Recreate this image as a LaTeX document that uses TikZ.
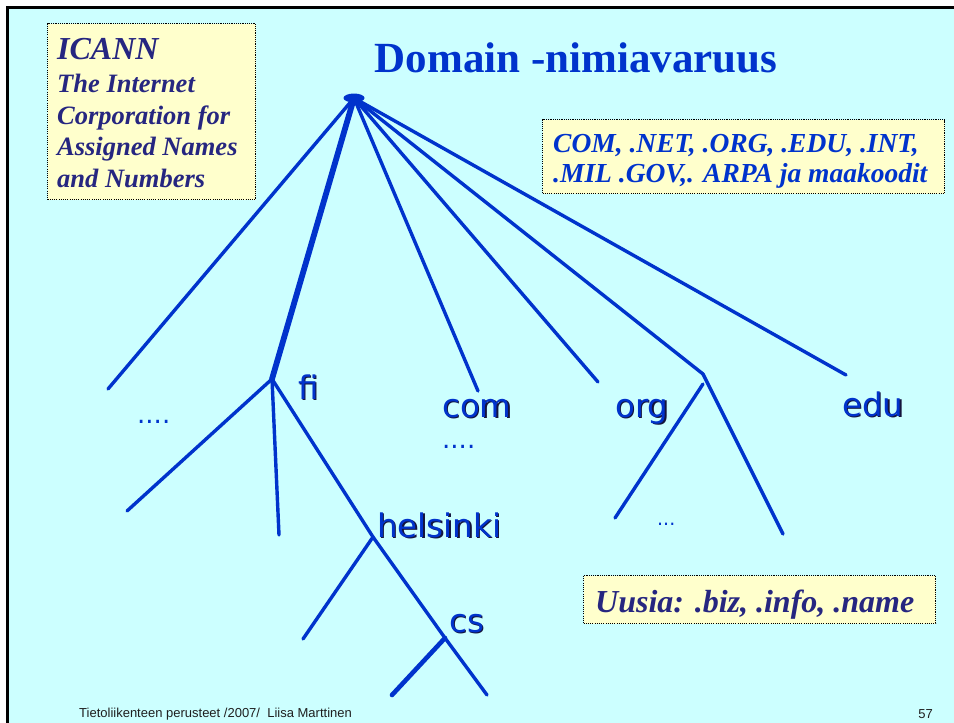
\documentclass[tikz,border=0pt]{standalone}
\usepackage{fontspec}
\setmainfont{Liberation Serif}
\newfontfamily\labelfont{DejaVu Sans}
\newfontfamily\footfont{Liberation Sans}
\usetikzlibrary{shapes.geometric}

\definecolor{slidebg}{RGB}{204,255,255}
\definecolor{treeblue}{RGB}{0,51,204}
\definecolor{notebg}{RGB}{255,255,204}
\definecolor{navy}{RGB}{38,38,128}
\definecolor{shadowc}{RGB}{20,20,60}

% label text with a small dark drop shadow
\newcommand\shadowed[1]{\rlap{\kern1.3pt\raisebox{-1.3pt}{\textcolor{shadowc}{#1}}}#1}

\begin{document}
\begin{tikzpicture}[x=1pt,y=-1pt,
  branch/.style={draw=treeblue,line width=3.4pt,line cap=round},
  trunk/.style={draw=treeblue,line width=5.8pt,line cap=round},
  notebox/.style={draw=black,fill=notebg,line width=1.1pt,
    dash pattern=on 1.1pt off 1.1pt,inner sep=0pt,anchor=north west},
  notetext/.style={anchor=base west,inner sep=0pt,align=left},
  domlabel/.style={anchor=base west,inner sep=0pt,text=treeblue,
    font=\labelfont\fontsize{32.5}{36}\selectfont},
  dots/.style={anchor=base west,inner sep=0pt,text=treeblue},
  foot/.style={inner sep=0pt,text=black!88,
    font=\footfont\fontsize{13}{15}\selectfont}]

\useasboundingbox (0,0) rectangle (954,723);

% slide background and frame
\fill[white] (0,0) rectangle (954,723);
\fill[slidebg] (8,8) rectangle (954,723);
\draw[black,line width=2.6pt] (7.5,723) -- (7.5,7.5) -- (954,7.5);

% title
\node[inner sep=0pt,anchor=base,text=treeblue,
  font=\bfseries\fontsize{43}{48}\selectfont] (title) at (576,72) {Domain -nimiavaruus};

% tree points
\coordinate (dotsleft) at (108,389);
\coordinate (fiJ) at (272,379);
\coordinate (comE) at (478,391);
\coordinate (orgE) at (598,382);
\coordinate (orgJ) at (703,374);
\coordinate (eduE) at (846,375);
\coordinate (fiA) at (127,511);
\coordinate (fiB) at (279,535);
\coordinate (helJ) at (373,537);
\coordinate (helA) at (303,639);
\coordinate (csJ) at (445,638);
\coordinate (csA) at (392,695);
\coordinate (csB) at (487,695);
\coordinate (orgS) at (703,384);
\coordinate (orgA) at (615,518);
\coordinate (orgB) at (783,534);

% root
\node[ellipse,fill=treeblue,inner sep=0pt,minimum width=21pt,minimum height=9pt] (root) at (354,98) {};

% top level branches
\draw[branch] (root.center) -- (dotsleft);
\draw[trunk] (root.center) -- (fiJ);
\draw[branch] (root.center) -- (comE);
\draw[branch] (root.center) -- (orgE);
\draw[branch] (root.center) -- (orgJ);
\draw[branch] (root.center) -- (eduE);

% fi subtree
\draw[branch] (fiJ) -- (fiA);
\draw[branch] (fiJ) -- (fiB);
\draw[branch] (fiJ) -- (helJ);
\draw[branch] (helJ) -- (helA);
\draw[branch] (helJ) -- (csJ);
\draw[branch] (csJ) -- (csB);
\draw[branch,line width=4.6pt] (csJ) -- (csA);

% second level under the org side
\draw[branch] (orgJ) -- (orgB);
\draw[branch] (orgS) -- (orgA);

% domain labels
\node[domlabel] (fi) at (298,399) {\shadowed{fi}};
\node[domlabel] (com) at (442,417) {\shadowed{com}};
\node[domlabel] (org) at (615,417) {\shadowed{org}};
\node[domlabel] (edu) at (842,416) {\shadowed{edu}};
\node[domlabel] (helsinki) at (377,537) {\shadowed{helsinki}};
\node[domlabel] (cs) at (449,632) {\shadowed{cs}};

% elided children
\node[dots,font=\labelfont\fontsize{26}{28}\selectfont] (moreA) at (137,423) {....};
\node[dots,font=\labelfont\fontsize{26}{28}\selectfont] (moreB) at (442,448) {....};
\node[dots,font=\labelfont\fontsize{19}{21}\selectfont] (moreC) at (657,525) {...};

% ICANN note (text anchored at the baseline of its last line)
\node[notebox,minimum width=208pt,minimum height=176pt] (icannbox) at (47,23) {};
\node[notetext,text=navy,font=\bfseries\itshape\fontsize{26.5}{31.5}\selectfont] (icann) at (57,187)
  {{\fontsize{32}{33}\selectfont ICANN}\\[1.5pt]The Internet\\Corporation for\\Assigned Names\\and Numbers};

% top level domain note
\node[notebox,minimum width=402pt,minimum height=74pt] (tldbox) at (542,119) {};
\node[notetext,text=treeblue,font=\bfseries\itshape\fontsize{27.5}{30}\selectfont] (tld) at (553,182)
  {COM, .NET, .ORG, .EDU, .INT,\\.MIL .GOV,. ARPA ja maakoodit};

% new domains note
\node[notebox,minimum width=352pt,minimum height=48pt] (newbox) at (583,575) {};
\node[notetext,text=navy,font=\bfseries\itshape\fontsize{32}{34}\selectfont] (new) at (595,612)
  {Uusia: .biz, .info, .name};

% footer
\node[foot,anchor=base west] (footer) at (79,717) {Tietoliikenteen perusteet /2007/\ \ Liisa Marttinen};
\node[foot,anchor=base east] (page) at (933,718) {57};
\end{tikzpicture}
\end{document}
